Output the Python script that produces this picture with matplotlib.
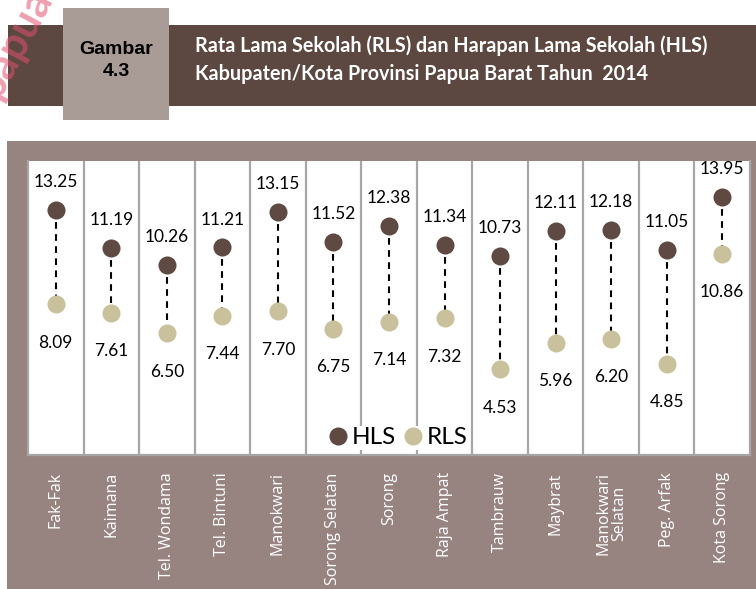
"""Rata Lama Sekolah (RLS) dan Harapan Lama Sekolah (HLS) - Papua Barat 2014."""

import matplotlib
matplotlib.use("Agg")
import matplotlib.pyplot as plt
import matplotlib.patches as mpatches
from matplotlib.lines import Line2D

plt.rcParams["font.family"] = ["Lato", "DejaVu Sans"]

regions = ["Fak-Fak", "Kaimana", "Tel. Wondama", "Tel. Bintuni", "Manokwari",
           "Sorong Selatan", "Sorong", "Raja Ampat", "Tambrauw", "Maybrat",
           "Manokwari\nSelatan", "Peg. Arfak", "Kota Sorong"]
hls = [13.25, 11.19, 10.26, 11.21, 13.15, 11.52, 12.38, 11.34, 10.73, 12.11, 12.18, 11.05, 13.95]
rls = [8.09, 7.61, 6.50, 7.44, 7.70, 6.75, 7.14, 7.32, 4.53, 5.96, 6.20, 4.85, 10.86]

HLS_C = "#5E4A42"
RLS_C = "#C9C19B"
BAND = "#5C4841"
BOX = "#A99B95"
PANEL = "#978481"
GRID = "#A6A6A6"

W, H = 756, 589
fig = plt.figure(figsize=(W / 100, H / 100), dpi=100)
fig.patch.set_facecolor("white")


def px_rect(x0, y0, x1, y1, color, z):
    r = mpatches.Rectangle((x0 / W, 1 - y1 / H), (x1 - x0) / W, (y1 - y0) / H,
                           transform=fig.transFigure, facecolor=color,
                           edgecolor="none", zorder=z)
    fig.patches.append(r)


# header
px_rect(8, 25, 756, 106, BAND, 1)
px_rect(63, 8, 169, 120, BOX, 2)
narrow = ["Liberation Sans Narrow", "Liberation Sans"]
fig.text(116 / W, 1 - 50 / H, "Gambar", family=narrow, weight="bold",
         fontsize=14, ha="center", va="center", zorder=3)
fig.text(116 / W, 1 - 72 / H, "4.3", family=narrow, weight="bold",
         fontsize=14, ha="center", va="center", zorder=3)
fig.text(195 / W, 1 - 46 / H,
         "Rata Lama Sekolah (RLS) dan Harapan Lama Sekolah (HLS)",
         color="white", weight="bold", fontsize=14.2, ha="left", va="center", zorder=3)
fig.text(195 / W, 1 - 74 / H,
         "Kabupaten/Kota Provinsi Papua Barat Tahun  2014",
         color="white", weight="bold", fontsize=14.2, ha="left", va="center", zorder=3)

# watermark
fig.text(4 / W, 1 - 104 / H, "papua.bps.go.id", color="#E2506F", alpha=0.55,
         fontsize=31, weight="bold", rotation=62, ha="left", va="bottom",
         rotation_mode="anchor", zorder=4)

# chart panel
px_rect(7, 141, 756, 589, PANEL, -1)

ax = fig.add_axes([28 / W, 1 - 455 / H, 722 / W, 294 / H])
ax.set_zorder(2)
ax.set_facecolor("white")
x = list(range(len(regions)))
ax.set_xlim(-0.5, len(regions) - 0.5)
ax.set_ylim(-0.15, 15.93)

for k in range(1, len(regions)):
    ax.axvline(k - 0.5, color=GRID, lw=1.6, zorder=1)

for xi, h, r in zip(x, hls, rls):
    ax.plot([xi, xi], [h, r], color="black", lw=1.5, ls=(0, (3.2, 2.6)), zorder=2)
ax.plot(x, hls, "o", color=HLS_C, ms=13, mec="none", zorder=3)
ax.plot(x, rls, "o", color=RLS_C, ms=13, mec="none", zorder=3)

for xi, h, r in zip(x, hls, rls):
    ax.annotate(f"{h:.2f}", (xi, h), xytext=(0, 20), textcoords="offset points",
                ha="center", va="center", fontsize=12.5, color="black")
    ax.annotate(f"{r:.2f}", (xi, r), xytext=(0, -27.5), textcoords="offset points",
                ha="center", va="center", fontsize=12.5, color="black")

ax.set_yticks([])
ax.set_xticks(x)
ax.set_xticklabels(regions, rotation=90, multialignment="center", linespacing=1.0)
for lbl in ax.get_xticklabels():
    lbl.set_fontfamily(["Open Sans", "DejaVu Sans"])
    lbl.set_fontsize(11.5)
    lbl.set_color("white")
ax.tick_params(axis="x", length=0, pad=12.5)
for side in ["left", "right", "bottom"]:
    ax.spines[side].set_color(GRID)
    ax.spines[side].set_linewidth(1.6)
ax.spines["top"].set_visible(False)

handles = [Line2D([], [], marker="o", ls="none", color=HLS_C, ms=13, mec="none"),
           Line2D([], [], marker="o", ls="none", color=RLS_C, ms=13, mec="none")]
leg = ax.legend(handles, ["HLS", "RLS"], loc="center", bbox_to_anchor=(0.512, 0.058),
                ncol=2, frameon=True, fontsize=17.5, handletextpad=0.12,
                columnspacing=0.25, handlelength=0.9, borderpad=0.05,
                borderaxespad=0)
leg.get_frame().set_facecolor("white")
leg.get_frame().set_edgecolor("none")
leg.get_frame().set_alpha(1)
leg.set_zorder(5)

fig.savefig("out.png", dpi=100)
